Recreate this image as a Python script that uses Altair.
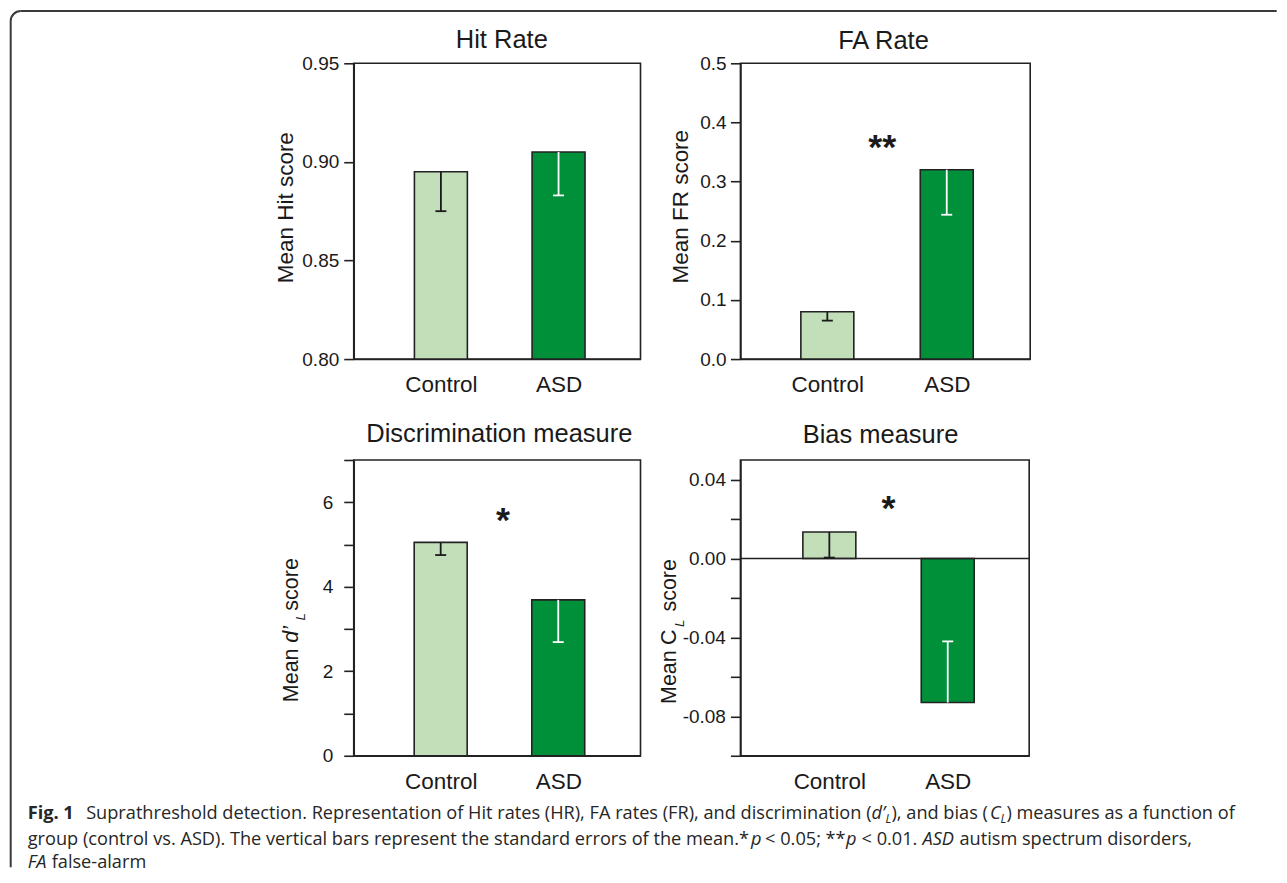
import math
import altair as alt
import pandas as pd

# ---------------- data ----------------
groups = ["Control", "ASD"]
hit_mean = [0.895, 0.905]
hit_se = [0.020, 0.022]
fa_mean = [0.080, 0.320]
fa_se = [0.015, 0.076]
dl_mean = [5.05, 3.69]
dl_se = [0.30, 1.00]
cl_mean = [0.0135, -0.073]
cl_se = [0.013, 0.031]

panel_titles = ["Hit Rate", "FA Rate", "Discrimination measure", "Bias measure"]
hit_ticks = [0.80, 0.85, 0.90, 0.95]
fa_ticks = [0.0, 0.1, 0.2, 0.3, 0.4, 0.5]
dl_ticks = [0, 1, 2, 3, 4, 5, 6, 7]
cl_ticks = [-0.10, -0.08, -0.06, -0.04, -0.02, 0.00, 0.02, 0.04]

sig_labels = ["**", "*", "*"]          # FA, d'L, CL panels
sig_x = [1.46, 1.53, 1.5]
sig_y = [0.363, 5.64, 0.0272]

caption_lines = [
    ["Fig. 1", "Suprathreshold detection. Representation of Hit rates (HR), FA rates (FR), and discrimination (",
     "d\u2019", "L", "), and bias (", "C", "L", ") measures as a function of"],
    ["group (control vs. ASD). The vertical bars represent the standard errors of the mean.*", "p",
     "< 0.05;", "**", "p", "< 0.01.", "ASD", "autism spectrum disorders,"],
    ["FA", "false-alarm"],
]

# ---------------- style / layout ----------------
FILL = ["#c3dfba", "#00903a"]
ERR = ["#1a1a1a", "#ffffff"]
INK = "#1a1a1a"
EDGE = "#222222"
CAPC = "#262626"
LW = 1.6
FONT = "Liberation Sans"
CAPFONT = "Open Sans"
H = 296
CS = 18.2      # caption font size
SS = 12        # caption subscript size

# caption segment styles and page positions (style, weight, size, x, baseline y)
cap_layout = [
    [("normal", "bold", CS, 26, 818), ("normal", "normal", CS, 84.5, 818),
     ("italic", "normal", CS, 870.5, 818), ("italic", "normal", SS, 884.5, 822),
     ("normal", "normal", CS, 890.5, 818), ("italic", "normal", CS, 989, 818),
     ("italic", "normal", SS, 999.5, 822), ("normal", "normal", CS, 1005.5, 818)],
    [("normal", "normal", CS, 26, 843.3), ("italic", "normal", CS, 750, 843.3),
     ("normal", "normal", CS, 764, 843.3), ("normal", "normal", CS, 824.5, 843.3),
     ("italic", "normal", CS, 845, 843.3), ("normal", "normal", CS, 860.5, 843.3),
     ("italic", "normal", CS, 921.5, 843.3), ("normal", "normal", CS, 958.5, 843.3)],
    [("italic", "normal", CS, 26, 867), ("normal", "normal", CS, 50, 867)],
]

P3_ORIGIN = (352.3, 458.3)
ONE = alt.Data(values=[{}])


def txt(text, x, y, size, font=CAPFONT, style="normal", weight="normal", angle=0, color=CAPC,
        align="left"):
    return alt.Chart(ONE).mark_text(
        align=align, baseline="alphabetic", font=font, fontSize=size,
        fontStyle=style, fontWeight=weight, angle=angle, color=color
    ).encode(x=alt.value(x), y=alt.value(y), text=alt.value(text))


def make_panel(title, means, ses, base, ydom, yticks, xdom, width, fmt=None, label_expr=None,
               label_pad=5, ytitle=None, ytitle_x=0, ytitle_y=0, title_offset=15, title_dx=0,
               sig=None, zero=False, extra=()):
    ends = [m - s if m >= 0 else m + s for m, s in zip(means, ses)]
    df = pd.DataFrame({"group": groups, "pos": [1, 2], "mean": means, "end": ends,
                       "base": [base, base]})
    xscale = alt.Scale(domain=xdom, nice=False, zero=False)
    xaxis = alt.Axis(values=[1, 2],
                     labelExpr=f"['{groups[0]}', '{groups[1]}'][datum.value - 1]",
                     ticks=False, tickSize=0, title=None, grid=False, labelFontSize=22.5,
                     labelPadding=32.8, labelBaseline="alphabetic", labelFlush=False,
                     labelColor=INK)
    yscale = alt.Scale(domain=ydom, nice=False, zero=False)
    yargs = dict(values=yticks, grid=False, tickSize=10, labelFontSize=19,
                 labelPadding=label_pad, labelOverlap=False, labelFlush=False, labelColor=INK)
    if fmt:
        yargs["format"] = fmt
    if label_expr:
        yargs["labelExpr"] = label_expr
    if ytitle:
        yargs.update(title=ytitle, titleFontSize=22.5, titleFontWeight="normal",
                     titleX=ytitle_x, titleY=ytitle_y, titleBaseline="alphabetic",
                     titleAngle=270, titleColor=INK)
    else:
        yargs["title"] = None
    yaxis = alt.Axis(**yargs)

    def X(f):
        return alt.X(f, scale=xscale, axis=xaxis)

    def Y(f):
        return alt.Y(f, scale=yscale, axis=yaxis)

    c = alt.Chart(df)
    layers = []
    layers.append(c.mark_bar(size=53, stroke=EDGE, strokeWidth=LW).encode(
        x=X("pos:Q"), y=Y("mean:Q"), y2="base:Q",
        fill=alt.Fill("group:N", scale=alt.Scale(domain=groups, range=FILL), legend=None)))
    if zero:
        layers.append(alt.Chart(ONE).mark_rule(color=EDGE, strokeWidth=LW).encode(y=alt.datum(0)))
    stroke = alt.Stroke("group:N", scale=alt.Scale(domain=groups, range=ERR), legend=None)
    layers.append(c.mark_rule(strokeWidth=1.8).encode(
        x=X("pos:Q"), y=Y("mean:Q"), y2="end:Q", stroke=stroke))
    layers.append(c.mark_rule(strokeWidth=1.8, xOffset=-5.5, x2Offset=5.5).encode(
        x=X("pos:Q"), x2="pos:Q", y=Y("end:Q"), stroke=stroke))
    if sig is not None:
        s_lab, s_x, s_y = sig
        sdf = pd.DataFrame({"sx": [s_x], "sy": [s_y], "t": [s_lab]})
        fs = 36
        layers.append(alt.Chart(sdf).mark_text(
            font=FONT, fontSize=fs, fontWeight="bold", align="center", baseline="alphabetic",
            dy=round(0.42 * fs), color=INK).encode(x=X("sx:Q"), y=Y("sy:Q"), text="t:N"))
    # panel title drawn as a text mark above the plot frame
    layers.append(txt(title, width / 2 + title_dx, -title_offset, 25.5, font=FONT,
                      color=INK, align="center"))
    layers.extend(extra)
    return alt.layer(*layers).properties(width=width, height=H)


# y-title pieces for panels 3 and 4 (rich text: italic / subscript)
TS = 21.5
p3_title = [
    txt("Mean", -55.6, 242.4, TS, font=FONT, angle=270, color=INK),
    txt("d\u2019", -55.6, 182.8, TS, font=FONT, style="italic", angle=270, color=INK),
    txt("L", -49.0, 160.7, 13.5, font=FONT, style="italic", angle=270, color=INK),
    txt("score", -55.6, 150.8, TS, font=FONT, angle=270, color=INK),
]
p4_title = [
    txt("Mean", -64.3, 244.2, TS, font=FONT, angle=270, color=INK),
    txt("C", -64.3, 185.2, TS, font=FONT, angle=270, color=INK),
    txt("L", -56.7, 167.2, 13.5, font=FONT, style="italic", angle=270, color=INK),
    txt("score", -64.3, 151.7, TS, font=FONT, angle=270, color=INK),
]

# caption segments (relative to panel 3 origin)
caption = []
for texts, lays in zip(caption_lines, cap_layout):
    for t, (st, wt, sz, px, py) in zip(texts, lays):
        caption.append(txt(t, px - P3_ORIGIN[0], py - P3_ORIGIN[1], sz, style=st, weight=wt))

# rounded frame around the figure (left / top sides visible)
bx, by, br = 9 - P3_ORIGIN[0], 9 - P3_ORIGIN[1], 10
FRAME = "#3a3a3a"
frame = [
    alt.Chart(ONE).mark_rule(color=FRAME, strokeWidth=2).encode(
        x=alt.value(bx + br), x2=alt.value(1276 - P3_ORIGIN[0]), y=alt.value(by)),
    alt.Chart(ONE).mark_rule(color=FRAME, strokeWidth=2).encode(
        x=alt.value(bx), y=alt.value(by + br), y2=alt.value(866 - P3_ORIGIN[1])),
    alt.Chart(ONE).mark_arc(color=FRAME).encode(
        x=alt.value(bx + br), y=alt.value(by + br),
        theta=alt.value(1.5 * math.pi), theta2=alt.value(2 * math.pi),
        radius=alt.value(br + 1), radius2=alt.value(br - 1)),
]

p1 = make_panel(panel_titles[0], hit_mean, hit_se, 0.80, [0.80, 0.95], hit_ticks,
                [0.3016, 2.654], 287, fmt=".2f", ytitle="Mean Hit score",
                ytitle_x=-61, ytitle_y=144, title_offset=15, title_dx=4.7)
p2 = make_panel(panel_titles[1], fa_mean, fa_se, 0.0, [0.0, 0.5], fa_ticks,
                [0.314, 2.657], 290, fmt=".1f", label_pad=4.3, ytitle="Mean FR score",
                ytitle_x=-53.3, ytitle_y=143, title_offset=14.3, title_dx=-1.8,
                sig=(sig_labels[0], sig_x[0], sig_y[0]))
p3 = make_panel(panel_titles[2], dl_mean, dl_se, 0.0, [0, 7], dl_ticks,
                [0.303, 2.657], 287, fmt="d",
                label_expr="datum.value % 2 == 0 ? datum.label : ''", label_pad=11,
                title_offset=17.6, title_dx=2.2,
                sig=(sig_labels[1], sig_x[1], sig_y[1]), extra=p3_title + caption + frame)
p4 = make_panel(panel_titles[3], cl_mean, cl_se, 0.0, [-0.10, 0.05], cl_ticks,
                [0.291, 2.646], 289,
                label_expr="abs(round(datum.value * 100)) % 4 == 0 ? "
                           "replace(format(datum.value, '.2f'), '\u2212', '-') : ''",
                label_pad=5, title_offset=16.6, title_dx=-4.3,
                sig=(sig_labels[2], sig_x[2], sig_y[2]), zero=True, extra=p4_title)

chart = alt.concat(
    p1, p2, p3, p4, columns=2,
    spacing={"row": 101, "column": 100}, bounds="flush", align="each",
).properties(padding=0).configure(font=FONT).configure_view(
    stroke=EDGE, strokeWidth=LW
).configure_axis(
    domainColor=EDGE, domainWidth=LW, tickColor=EDGE, tickWidth=LW,
    labelFont=FONT, titleFont=FONT,
)

chart.save("out.html", embed_options={"renderer": "svg", "actions": False})
